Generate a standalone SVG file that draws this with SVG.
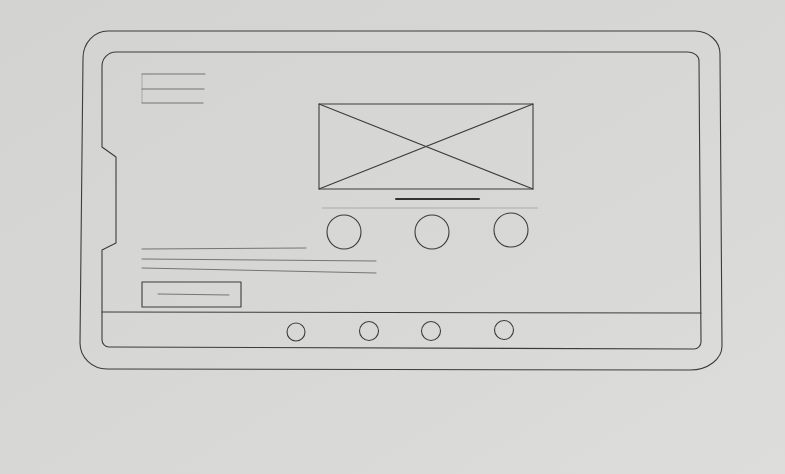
<svg xmlns="http://www.w3.org/2000/svg" width="785" height="474" viewBox="0 0 785 474">
  <defs>
    <linearGradient id="paper" x1="0" y1="0" x2="1" y2="1">
      <stop offset="0" stop-color="#d3d3d1"/>
      <stop offset="0.6" stop-color="#d8d8d6"/>
      <stop offset="1" stop-color="#dddddb"/>
    </linearGradient>
  </defs>
  <style>
    .ln{fill:none;stroke:#3c3c3c;stroke-width:1.1;stroke-linecap:round;stroke-linejoin:round}
    .lt{fill:none;stroke:#6a6a6a;stroke-width:0.9;stroke-linecap:round}
    .fa{fill:none;stroke:#9a9a9a;stroke-width:0.7}
    .thick{fill:none;stroke:#333;stroke-width:2;stroke-linecap:round}
  </style>
  <rect width="785" height="474" fill="url(#paper)"/>

  <g id="device">
    <path class="ln" d="M108,31 L695,31 A25,23 0 0 1 720,54 L722,346 A32,24 0 0 1 690,370 L107,369 A27,26 0 0 1 80,343 L83,58 A25,27 0 0 1 108,31 Z"/>
  </g>

  <g id="screen">
    <path class="ln" d="M116,52 L688,52 A11,9 0 0 1 699,61 L701,342 A7,7 0 0 1 694,349 L109,347 A7,7 0 0 1 102,340 L102,250 L116,243 L116,157 L102,147 L102,66 A14,14 0 0 1 116,52 Z"/>
  </g>

  <g id="header-text">
    <line class="fa" x1="142" y1="74" x2="142" y2="103"/>
    <line class="lt" x1="142" y1="74" x2="205" y2="74"/>
    <line class="lt" x1="142" y1="89" x2="204" y2="89"/>
    <line class="lt" x1="142" y1="103" x2="203" y2="103"/>
  </g>

  <g id="image-placeholder">
    <rect class="ln" x="319" y="104" width="214" height="85"/>
    <line class="ln" x1="319" y1="104" x2="533" y2="189"/>
    <line class="ln" x1="533" y1="104" x2="319" y2="189"/>
  </g>

  <g id="caption">
    <line class="thick" x1="396" y1="199" x2="479" y2="199"/>
    <line class="fa" x1="322" y1="208" x2="538" y2="208"/>
  </g>

  <g id="icons">
    <circle class="ln" cx="344" cy="232" r="17"/>
    <circle class="ln" cx="432" cy="232" r="17"/>
    <circle class="ln" cx="511" cy="230" r="17"/>
  </g>

  <g id="body-text">
    <line class="lt" x1="142" y1="249" x2="306" y2="248"/>
    <line class="lt" x1="142" y1="259" x2="376" y2="261"/>
    <line class="lt" x1="142" y1="268" x2="376" y2="273"/>
  </g>

  <g id="button">
    <rect class="ln" x="142" y="282" width="99" height="25"/>
    <line class="lt" x1="158" y1="294" x2="229" y2="295"/>
  </g>

  <g id="bottom-bar">
    <line class="ln" x1="102" y1="312" x2="701" y2="313"/>
    <circle class="ln" cx="296" cy="332" r="9"/>
    <circle class="ln" cx="369" cy="331" r="9.5"/>
    <circle class="ln" cx="431" cy="331" r="9.5"/>
    <circle class="ln" cx="504" cy="330" r="9.5"/>
  </g>
</svg>
